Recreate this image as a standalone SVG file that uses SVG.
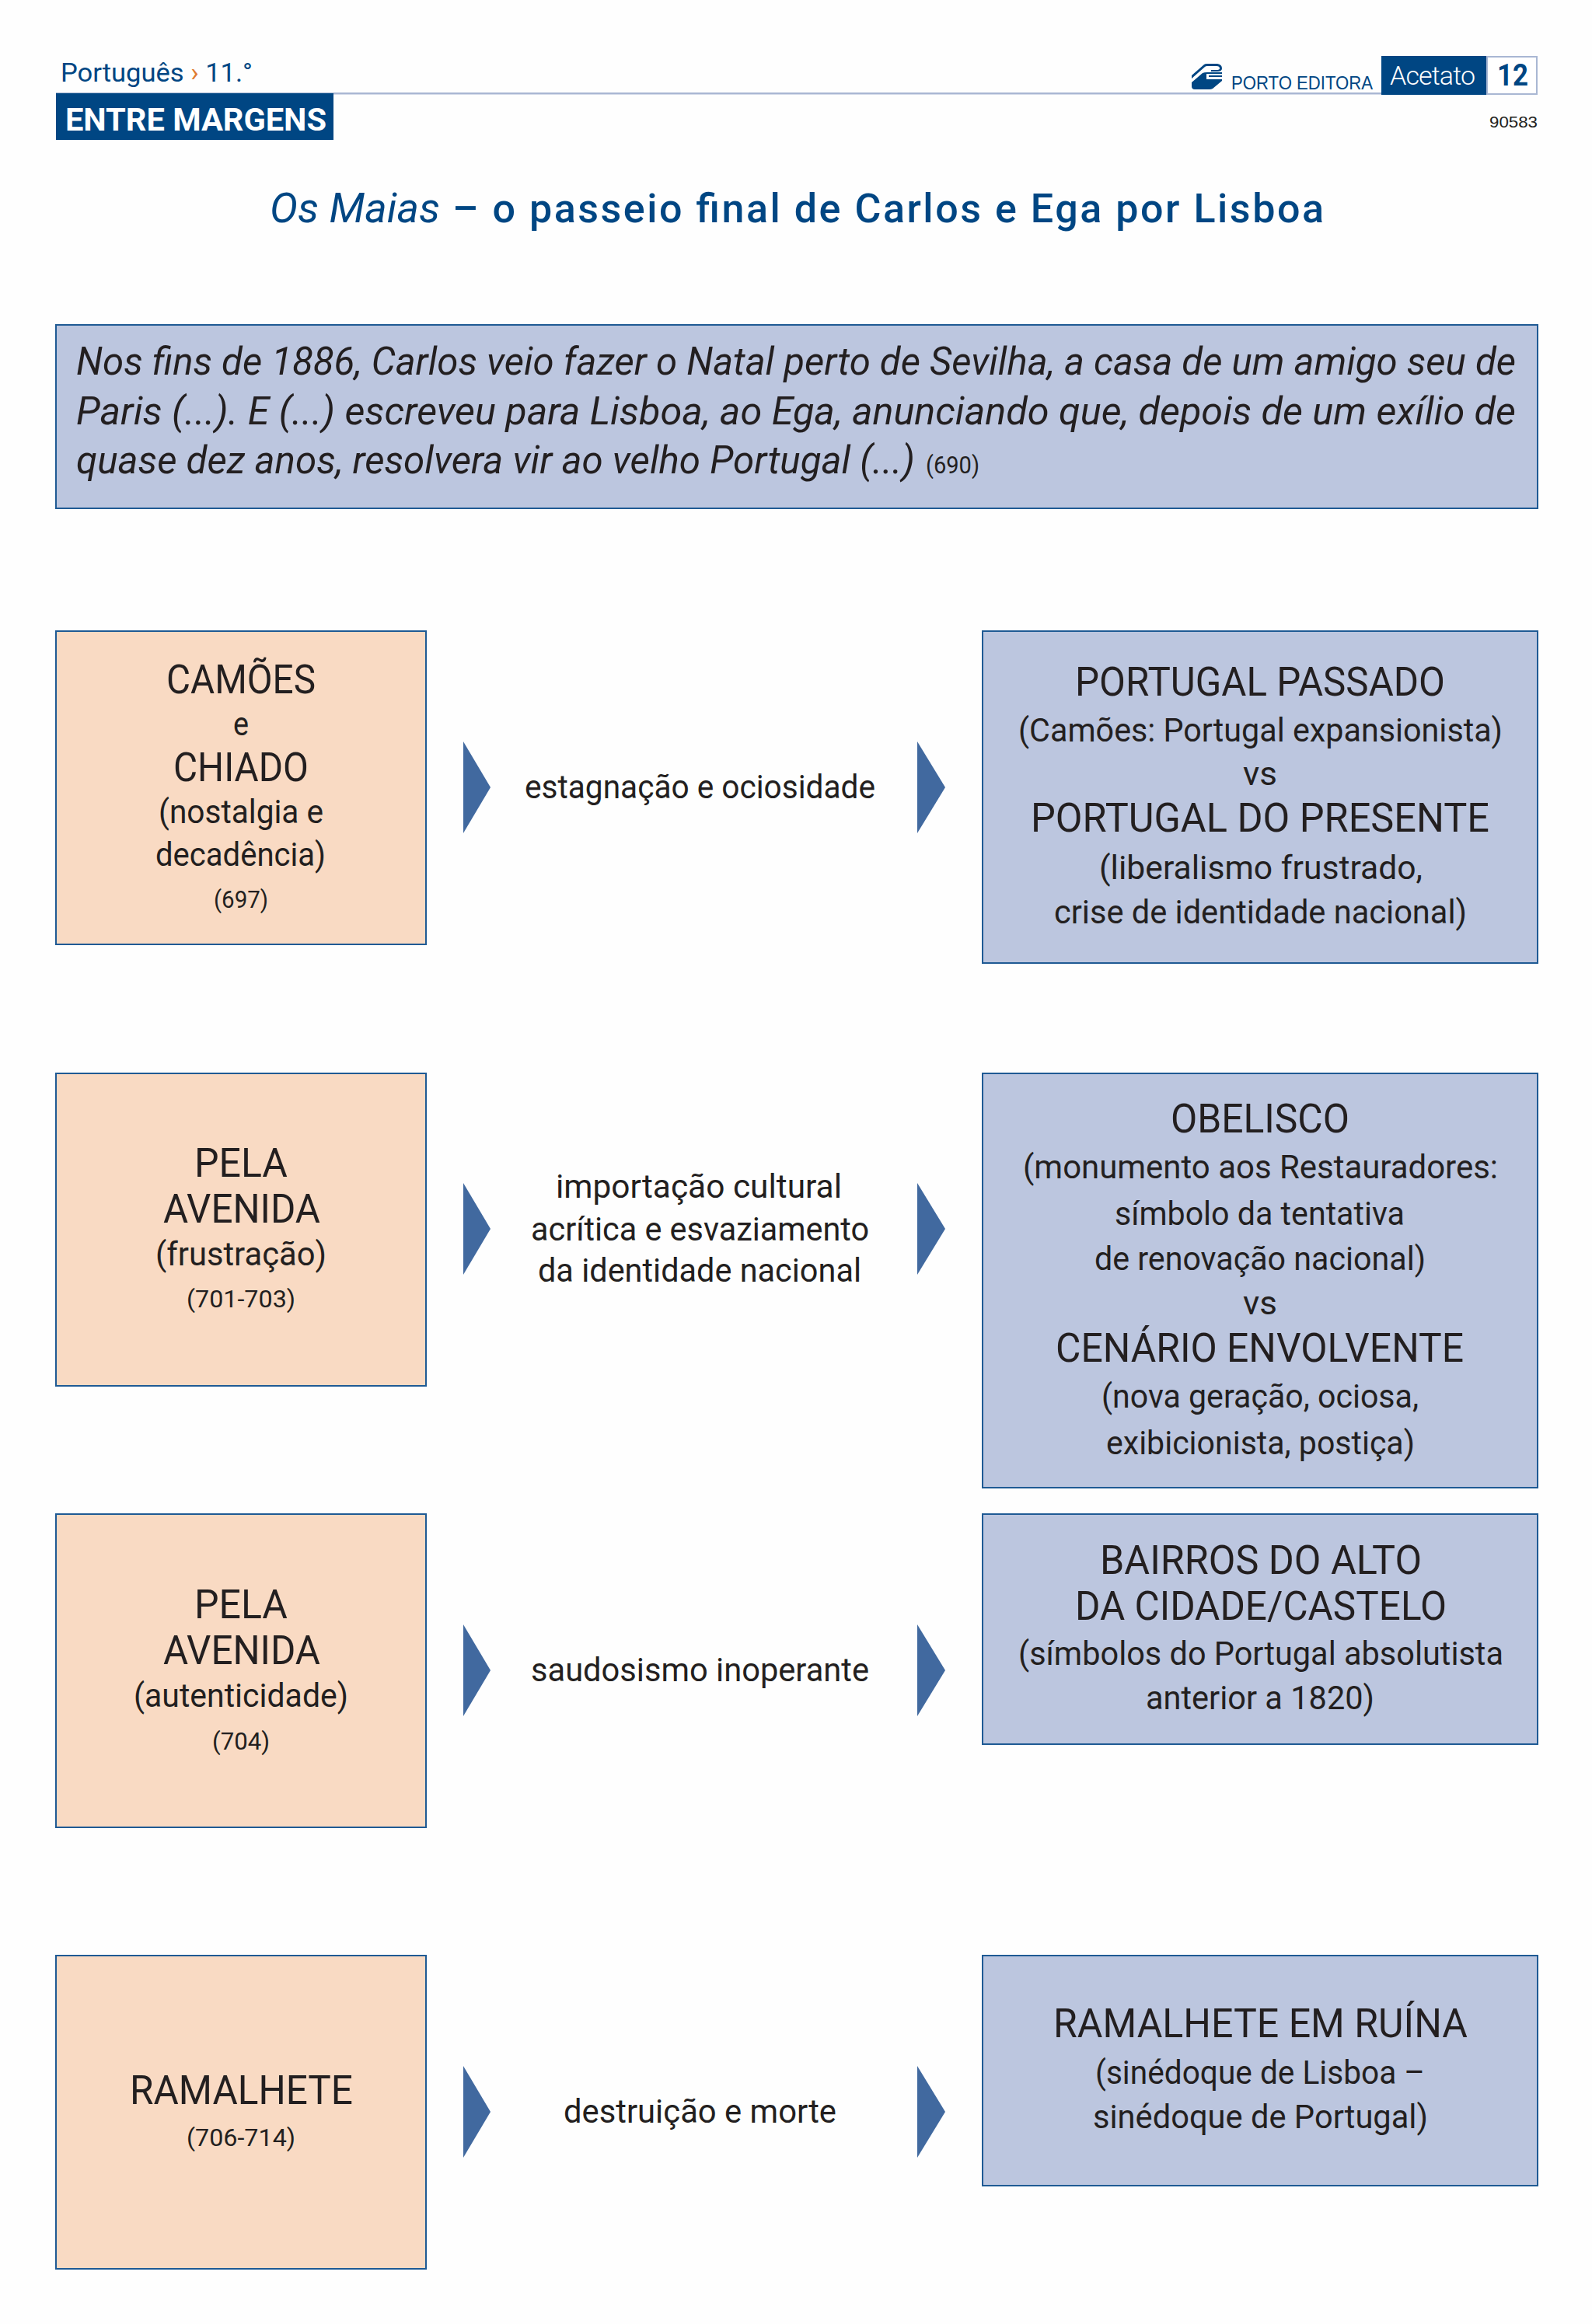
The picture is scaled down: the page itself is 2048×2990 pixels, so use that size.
<svg xmlns="http://www.w3.org/2000/svg" width="2048" height="2990" viewBox="0 0 2048 2990">
<style>
text{font-family:Roboto,"Liberation Sans",sans-serif;fill:#231f20}
.h{font-size:51px;font-weight:400}
.s{font-size:42px;font-weight:400}
.n{font-size:32px;font-weight:400}
.q{font-size:49px;font-weight:400;font-style:italic}
.pe{fill:#f9dac3;stroke:#1f5a94;stroke-width:2}
.bl{fill:#bcc6df;stroke:#1f5a94;stroke-width:2}
.ar{fill:#41699f}
.b{fill:#004683}
</style>
<rect width="2048" height="2990" fill="#fefefe"/>
<g id="header">
<rect x="72" y="119" width="1906" height="2.5" fill="#a9b7d3"/>
<text x="78" y="105" font-size="34" font-weight="400" textLength="247" lengthAdjust="spacingAndGlyphs" style="fill:#004683">Português <tspan style="fill:#e07b30">›</tspan> 11.°</text>
<rect class="b" x="72" y="120" width="357" height="60"/>
<text x="84" y="168" font-size="41" font-weight="700" textLength="336" lengthAdjust="spacingAndGlyphs" style="fill:#fff">ENTRE MARGENS</text>
<g id="logo" fill="#004683">
<path d="M1533 106L1547 94Q1549 93 1553 93L1572 93L1572 95L1552 95L1552 102L1572 102L1572 104L1560 114Q1558 115 1556 115L1537 115Q1533 115 1533 111Z"/>
<path d="M1533 97L1549 83Q1550 82 1553 82L1566 82Q1572 83 1572 88Q1572 92 1566 92L1558 92L1558 90L1565 90Q1569 90 1569 88Q1569 85 1565 85L1553 85Q1551 85 1550 86L1533 101Z"/>
<rect x="1555" y="97" width="17" height="2"/>
</g>
<text x="1584" y="115" font-size="23" textLength="182" lengthAdjust="spacingAndGlyphs" style="font-family:'Liberation Sans',sans-serif;fill:#004683">PORTO EDITORA</text>
<rect class="b" x="1777" y="72" width="135" height="50"/>
<text x="1788" y="109" font-size="34" font-weight="300" textLength="110" lengthAdjust="spacing" style="fill:#fff">Acetato</text>
<rect x="1913" y="73" width="64" height="48" fill="#fff" stroke="#a9b7d3" stroke-width="2"/>
<text x="1926" y="110" font-size="38" font-weight="700" textLength="40" lengthAdjust="spacingAndGlyphs" style="fill:#004683">12</text>
<text x="1916" y="164" font-size="21" textLength="62" lengthAdjust="spacingAndGlyphs" style="font-family:'Liberation Sans',sans-serif">90583</text>
</g>
<g id="title">
<text x="347" y="286" font-size="54" font-style="italic" font-weight="400" textLength="219" lengthAdjust="spacingAndGlyphs" style="fill:#004683">Os Maias</text>
<text x="582" y="286" font-size="52" font-weight="500" textLength="1121" lengthAdjust="spacing" style="fill:#004683">– o passeio final de Carlos e Ega por Lisboa</text>
</g>
<g id="quote">
<rect class="bl" x="72" y="418" width="1906" height="236"/>
<text class="q" x="98" y="482" textLength="1852" lengthAdjust="spacingAndGlyphs">Nos fins de 1886, Carlos veio fazer o Natal perto de Sevilha, a casa de um amigo seu de</text>
<text class="q" x="98" y="546" textLength="1852" lengthAdjust="spacingAndGlyphs">Paris (...). E (...) escreveu para Lisboa, ao Ega, anunciando que, depois de um exílio de</text>
<text class="q" x="98" y="609" textLength="1079" lengthAdjust="spacingAndGlyphs">quase dez anos, resolvera vir ao velho Portugal (...)</text>
<text class="n" x="1191" y="609" textLength="69" lengthAdjust="spacingAndGlyphs">(690)</text>
</g>
<g id="connectors">
<path class="ar" d="M596 954L631 1013L596 1072Z"/><path class="ar" d="M1180 954L1216 1013L1180 1072Z"/>
<path class="ar" d="M596 1522L631 1581L596 1640Z"/><path class="ar" d="M1180 1522L1216 1581L1180 1640Z"/>
<path class="ar" d="M596 2090L631 2149L596 2208Z"/><path class="ar" d="M1180 2090L1216 2149L1180 2208Z"/>
<path class="ar" d="M596 2658L631 2717L596 2776Z"/><path class="ar" d="M1180 2658L1216 2717L1180 2776Z"/>
</g>
<g id="left1">
<rect class="pe" x="72" y="812" width="476" height="403"/>
<text class="h" x="214" y="892" textLength="192" lengthAdjust="spacingAndGlyphs">CAMÕES</text>
<text class="s" x="300" y="946" textLength="20" lengthAdjust="spacingAndGlyphs">e</text>
<text class="h" x="223" y="1005" textLength="174" lengthAdjust="spacingAndGlyphs">CHIADO</text>
<text class="s" x="204" y="1059" textLength="212" lengthAdjust="spacingAndGlyphs">(nostalgia e</text>
<text class="s" x="200" y="1114" textLength="219" lengthAdjust="spacingAndGlyphs">decadência)</text>
<text class="n" x="275" y="1168" textLength="70" lengthAdjust="spacingAndGlyphs">(697)</text>
</g>
<g id="mid1"><text class="s" x="675" y="1027" textLength="451" lengthAdjust="spacingAndGlyphs">estagnação e ociosidade</text></g>
<g id="right1">
<rect class="bl" x="1264" y="812" width="714" height="427"/>
<text class="h" x="1383" y="895" textLength="476" lengthAdjust="spacingAndGlyphs">PORTUGAL PASSADO</text>
<text class="s" x="1310" y="954" textLength="623" lengthAdjust="spacingAndGlyphs">(Camões: Portugal expansionista)</text>
<text class="s" x="1599" y="1010" textLength="44" lengthAdjust="spacingAndGlyphs">vs</text>
<text class="h" x="1326" y="1070" textLength="590" lengthAdjust="spacingAndGlyphs">PORTUGAL DO PRESENTE</text>
<text class="s" x="1414" y="1131" textLength="416" lengthAdjust="spacingAndGlyphs">(liberalismo frustrado,</text>
<text class="s" x="1356" y="1188" textLength="531" lengthAdjust="spacingAndGlyphs">crise de identidade nacional)</text>
</g>
<g id="left2">
<rect class="pe" x="72" y="1381" width="476" height="402"/>
<text class="h" x="250" y="1514" textLength="120" lengthAdjust="spacingAndGlyphs">PELA</text>
<text class="h" x="210" y="1573" textLength="202" lengthAdjust="spacingAndGlyphs">AVENIDA</text>
<text class="s" x="200" y="1628" textLength="220" lengthAdjust="spacingAndGlyphs">(frustração)</text>
<text class="n" x="240" y="1682" textLength="140" lengthAdjust="spacingAndGlyphs">(701-703)</text>
</g>
<g id="mid2">
<text class="s" x="715" y="1541" textLength="368" lengthAdjust="spacingAndGlyphs">importação cultural</text>
<text class="s" x="683" y="1596" textLength="435" lengthAdjust="spacingAndGlyphs">acrítica e esvaziamento</text>
<text class="s" x="692" y="1649" textLength="416" lengthAdjust="spacingAndGlyphs">da identidade nacional</text>
</g>
<g id="right2">
<rect class="bl" x="1264" y="1381" width="714" height="533"/>
<text class="h" x="1506" y="1457" textLength="230" lengthAdjust="spacingAndGlyphs">OBELISCO</text>
<text class="s" x="1316" y="1516" textLength="611" lengthAdjust="spacingAndGlyphs">(monumento aos Restauradores:</text>
<text class="s" x="1434" y="1576" textLength="373" lengthAdjust="spacingAndGlyphs">símbolo da tentativa</text>
<text class="s" x="1408" y="1634" textLength="426" lengthAdjust="spacingAndGlyphs">de renovação nacional)</text>
<text class="s" x="1599" y="1691" textLength="44" lengthAdjust="spacingAndGlyphs">vs</text>
<text class="h" x="1358" y="1752" textLength="525" lengthAdjust="spacingAndGlyphs">CENÁRIO ENVOLVENTE</text>
<text class="s" x="1417" y="1811" textLength="408" lengthAdjust="spacingAndGlyphs">(nova geração, ociosa,</text>
<text class="s" x="1423" y="1871" textLength="397" lengthAdjust="spacingAndGlyphs">exibicionista, postiça)</text>
</g>
<g id="left3">
<rect class="pe" x="72" y="1948" width="476" height="403"/>
<text class="h" x="250" y="2082" textLength="120" lengthAdjust="spacingAndGlyphs">PELA</text>
<text class="h" x="210" y="2141" textLength="202" lengthAdjust="spacingAndGlyphs">AVENIDA</text>
<text class="s" x="172" y="2196" textLength="276" lengthAdjust="spacingAndGlyphs">(autenticidade)</text>
<text class="n" x="273" y="2251" textLength="74" lengthAdjust="spacingAndGlyphs">(704)</text>
</g>
<g id="mid3"><text class="s" x="683" y="2163" textLength="435" lengthAdjust="spacingAndGlyphs">saudosismo inoperante</text></g>
<g id="right3">
<rect class="bl" x="1264" y="1948" width="714" height="296"/>
<text class="h" x="1415" y="2025" textLength="414" lengthAdjust="spacingAndGlyphs">BAIRROS DO ALTO</text>
<text class="h" x="1383" y="2084" textLength="478" lengthAdjust="spacingAndGlyphs">DA CIDADE/CASTELO</text>
<text class="s" x="1310" y="2142" textLength="624" lengthAdjust="spacingAndGlyphs">(símbolos do Portugal absolutista</text>
<text class="s" x="1474" y="2199" textLength="294" lengthAdjust="spacingAndGlyphs">anterior a 1820)</text>
</g>
<g id="left4">
<rect class="pe" x="72" y="2516" width="476" height="403"/>
<text class="h" x="167" y="2707" textLength="287" lengthAdjust="spacingAndGlyphs">RAMALHETE</text>
<text class="n" x="240" y="2761" textLength="140" lengthAdjust="spacingAndGlyphs">(706-714)</text>
</g>
<g id="mid4"><text class="s" x="725" y="2731" textLength="351" lengthAdjust="spacingAndGlyphs">destruição e morte</text></g>
<g id="right4">
<rect class="bl" x="1264" y="2516" width="714" height="296"/>
<text class="h" x="1355" y="2621" textLength="533" lengthAdjust="spacingAndGlyphs">RAMALHETE EM RUÍNA</text>
<text class="s" x="1409" y="2681" textLength="424" lengthAdjust="spacingAndGlyphs">(sinédoque de Lisboa –</text>
<text class="s" x="1406" y="2738" textLength="431" lengthAdjust="spacingAndGlyphs">sinédoque de Portugal)</text>
</g>
</svg>
